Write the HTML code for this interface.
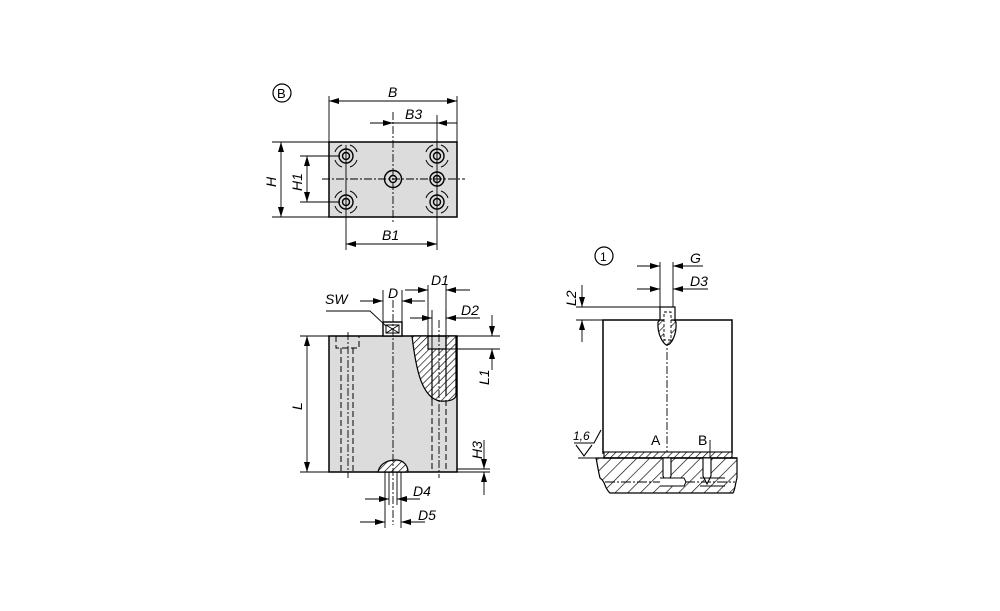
<!DOCTYPE html>
<html><head><meta charset="utf-8"><style>
html,body{margin:0;padding:0;background:#fff;width:1000px;height:611px;overflow:hidden}
svg{display:block}
text{font-family:"Liberation Sans",sans-serif;font-style:italic;font-size:14px;fill:#000}
</style></head><body>
<svg width="1000" height="611" viewBox="0 0 1000 611" xmlns="http://www.w3.org/2000/svg">
<defs>
<pattern id="h" patternUnits="userSpaceOnUse" width="5" height="5" patternTransform="rotate(45)"><rect width="5" height="5" fill="#fff"/><line x1="0" y1="0" x2="0" y2="5" stroke="#000" stroke-width="1.3"/></pattern>
<pattern id="h2" patternUnits="userSpaceOnUse" width="9" height="9" patternTransform="rotate(45)"><rect width="9" height="9" fill="#fff"/><line x1="0" y1="0" x2="0" y2="9" stroke="#000" stroke-width="1.3"/></pattern>
<marker id="a" viewBox="0 0 10 6" refX="10" refY="3" markerWidth="10" markerHeight="6" orient="auto-start-reverse" markerUnits="userSpaceOnUse"><path d="M0,0L10,3L0,6z" fill="#000"/></marker>
</defs>
<g stroke="#000" fill="none" stroke-width="1">

<!-- TOP VIEW -->
<circle cx="282" cy="93" r="9" stroke-width="1.2"/>
<rect x="329" y="142" width="128" height="75" fill="#dcdcdc" stroke-width="1.5"/>
<line x1="322" y1="179" x2="465" y2="179" stroke-dasharray="8,2,2,2" stroke-width="0.9"/>
<line x1="393" y1="112" x2="393" y2="224" stroke-dasharray="8,2,2,2" stroke-width="0.9"/>
<g stroke-width="1.4">
<circle cx="346" cy="156" r="7"/><circle cx="346" cy="156" r="3.5"/>
<circle cx="346" cy="202" r="7"/><circle cx="346" cy="202" r="3.5"/>
<circle cx="437" cy="156" r="7"/><circle cx="437" cy="156" r="3.5"/>
<circle cx="437" cy="202" r="7"/><circle cx="437" cy="202" r="3.5"/>
<circle cx="437" cy="179" r="7"/><circle cx="437" cy="179" r="3.5"/>
<circle cx="393" cy="179" r="8.5"/><circle cx="393" cy="179" r="3.5"/>
</g>
<g stroke-width="1">
<path d="M335,152 A11,11 0 0 1 342,145 M350,145 A11,11 0 0 1 357,152 M357,160 A11,11 0 0 1 350,167 M342,167 A11,11 0 0 1 335,160"/>
<path d="M335,198 A11,11 0 0 1 342,191 M350,191 A11,11 0 0 1 357,198 M357,206 A11,11 0 0 1 350,213 M342,213 A11,11 0 0 1 335,206"/>
<path d="M426,152 A11,11 0 0 1 433,145 M441,145 A11,11 0 0 1 448,152 M448,160 A11,11 0 0 1 441,167 M433,167 A11,11 0 0 1 426,160"/>
<path d="M426,198 A11,11 0 0 1 433,191 M441,191 A11,11 0 0 1 448,198 M448,206 A11,11 0 0 1 441,213 M433,213 A11,11 0 0 1 426,206"/>
</g>
<g stroke-width="0.9">
<line x1="346" y1="145" x2="346" y2="250"/><line x1="437" y1="115" x2="437" y2="250"/>
<line x1="329" y1="96" x2="329" y2="142"/><line x1="457" y1="96" x2="457" y2="142"/>
<line x1="272" y1="142" x2="329" y2="142"/><line x1="272" y1="217" x2="329" y2="217"/>
<line x1="300" y1="156" x2="340" y2="156"/><line x1="300" y1="202" x2="340" y2="202"/>
<line x1="329" y1="101" x2="457" y2="101" marker-start="url(#a)" marker-end="url(#a)"/>
<line x1="370" y1="123" x2="393" y2="123" marker-end="url(#a)"/>
<line x1="393" y1="123" x2="437" y2="123"/>
<line x1="457" y1="123" x2="437" y2="123" marker-end="url(#a)"/>
<line x1="346" y1="244" x2="437" y2="244" marker-start="url(#a)" marker-end="url(#a)"/>
<line x1="281" y1="142" x2="281" y2="217" marker-start="url(#a)" marker-end="url(#a)"/>
<line x1="307" y1="156" x2="307" y2="202" marker-start="url(#a)" marker-end="url(#a)"/>
</g>

<!-- FRONT VIEW -->
<rect x="329" y="336" width="128" height="136" fill="#dcdcdc" stroke-width="1.5"/>
<path d="M412,336 C416,370 422,398 440,401 C452,402 456,398 456,395 L456,336 L446,336 L446,349 L428,349 L428,336 Z" fill="url(#h)" stroke-width="1.2"/>
<path d="M428,336 L446,336 L446,349 L446,396 M432,349 L432,400" stroke-width="1.2"/>
<path d="M378,472 C380,462 390,460 396,460 C404,460 408,466 408,472 Z" fill="url(#h)" stroke-width="1.2"/>
<rect x="383" y="322" width="19" height="14" fill="#fff" stroke-width="1.4"/>
<rect x="386" y="325" width="13" height="8" stroke-width="1"/>
<path d="M386,325 L399,333 M399,325 L386,333" stroke-width="0.9"/>
<g stroke-width="1" stroke-dasharray="6,3">
<path d="M336,336 L336,348 L359,348 L359,336"/>
<line x1="341" y1="348" x2="341" y2="472"/><line x1="353" y1="348" x2="353" y2="472"/>
<line x1="432" y1="400" x2="432" y2="472"/><line x1="446" y1="400" x2="446" y2="472"/>
</g>
<g stroke-width="0.9" stroke-dasharray="8,2,2,2">
<line x1="393" y1="300" x2="393" y2="525"/>
<line x1="348" y1="332" x2="348" y2="478"/>
<line x1="439" y1="320" x2="439" y2="478"/>
</g>
<g stroke-width="0.9">
<line x1="300" y1="336" x2="329" y2="336"/><line x1="300" y1="472" x2="329" y2="472"/>
<line x1="307" y1="336" x2="307" y2="472" marker-start="url(#a)" marker-end="url(#a)"/>
<line x1="457" y1="336" x2="500" y2="336"/><line x1="446" y1="349" x2="500" y2="349"/>
<line x1="492" y1="315" x2="492" y2="336" marker-end="url(#a)"/><line x1="492" y1="370" x2="492" y2="349" marker-end="url(#a)"/>
<line x1="457" y1="469" x2="490" y2="469"/><line x1="457" y1="472" x2="490" y2="472"/>
<line x1="484" y1="440" x2="484" y2="469" marker-end="url(#a)"/><line x1="484" y1="495" x2="484" y2="472" marker-end="url(#a)"/>
<line x1="383" y1="290" x2="383" y2="322"/><line x1="402" y1="290" x2="402" y2="322"/>
<line x1="360" y1="301" x2="383" y2="301" marker-end="url(#a)"/><line x1="425" y1="301" x2="402" y2="301" marker-end="url(#a)"/>
<line x1="428" y1="285" x2="428" y2="336"/><line x1="446" y1="285" x2="446" y2="336"/>
<line x1="405" y1="290" x2="428" y2="290" marker-end="url(#a)"/><line x1="470" y1="290" x2="446" y2="290" marker-end="url(#a)"/>
<line x1="432" y1="310" x2="432" y2="349"/><line x1="446" y1="310" x2="446" y2="320"/>
<line x1="410" y1="318" x2="432" y2="318" marker-end="url(#a)"/><line x1="480" y1="318" x2="446" y2="318" marker-end="url(#a)"/>
<line x1="385" y1="472" x2="385" y2="528"/><line x1="401" y1="472" x2="401" y2="528"/>
<line x1="389" y1="472" x2="389" y2="505"/><line x1="397" y1="472" x2="397" y2="505"/>
<line x1="365" y1="499" x2="389" y2="499" marker-end="url(#a)"/><line x1="420" y1="499" x2="397" y2="499" marker-end="url(#a)"/>
<line x1="360" y1="522" x2="385" y2="522" marker-end="url(#a)"/><line x1="425" y1="522" x2="401" y2="522" marker-end="url(#a)"/>
<path d="M326,311 L370,311 L386,326"/>
</g>

<!-- RIGHT VIEW -->
<circle cx="604" cy="256" r="9" stroke-width="1.2"/>
<rect x="603" y="320" width="129" height="133" fill="#fff" stroke-width="1.5"/>
<line x1="667" y1="310" x2="667" y2="485" stroke-dasharray="8,2,2,2" stroke-width="0.9"/>
<path d="M658,322 C657,335 664,345 667,345 C671,345 677,335 676,322 L674,320 L660,320 Z" fill="url(#h)" stroke-width="1.2"/>
<rect x="660" y="307" width="15" height="13" fill="#fff" stroke-width="1.2"/>
<rect x="664" y="312" width="7" height="28" fill="#fff" stroke-width="0.9" stroke-dasharray="3,2"/>
<rect x="604" y="452" width="128" height="6" fill="url(#h)" stroke-width="1.1"/>
<path d="M596,458 L737,458 L737,478 C735,485 735,490 733,493 L610,493 C604,488 606,482 600,478 C598,470 597,462 596,458 Z" fill="url(#h2)" stroke-width="1.2"/>
<line x1="603" y1="458" x2="737" y2="458" stroke-width="1.4"/>
<line x1="605" y1="482" x2="735" y2="482" stroke-width="0.9" stroke-dasharray="10,2,2,2"/>
<path d="M663,458 L663,476 L667,484 L671,476 L671,458 Z" fill="#fff" stroke-width="1.1"/>
<path d="M703,458 L703,476 L707,484 L711,476 L711,458 Z" fill="#fff" stroke-width="1.1"/>
<path d="M660,478 L684,478 L686,482 L684,486 L660,486" fill="#fff" stroke-width="1"/>
<path d="M700,478 L725,478 M700,486 L725,486" stroke-width="1"/>
<line x1="710" y1="440" x2="710" y2="458" stroke-width="0.9"/>
<g stroke-width="0.9">
<line x1="660" y1="262" x2="660" y2="307"/><line x1="673" y1="262" x2="673" y2="307"/>
<line x1="637" y1="266" x2="660" y2="266" marker-end="url(#a)"/><line x1="703" y1="266" x2="673" y2="266" marker-end="url(#a)"/>
<line x1="637" y1="289" x2="660" y2="289" marker-end="url(#a)"/><line x1="708" y1="289" x2="673" y2="289" marker-end="url(#a)"/>
<line x1="576" y1="307" x2="660" y2="307"/><line x1="576" y1="320" x2="603" y2="320"/>
<line x1="582" y1="285" x2="582" y2="307" marker-end="url(#a)"/><line x1="582" y1="342" x2="582" y2="320" marker-end="url(#a)"/>
<path d="M574,443 L594,443 L601,430 M576,445 L584,456 L592,445" stroke-width="1.1"/>
<line x1="578" y1="458" x2="603" y2="458"/>
</g>
</g>
<g>
<text x="277" y="98" style="font-style:normal;font-size:13px">B</text>
<text x="388" y="97">B</text>
<text x="405" y="119">B3</text>
<text x="382" y="240">B1</text>
<text transform="translate(276,187) rotate(-90)">H</text>
<text transform="translate(302,191) rotate(-90)">H1</text>
<text transform="translate(302,410) rotate(-90)">L</text>
<text x="325" y="304">SW</text>
<text x="388" y="298">D</text>
<text x="431" y="285">D1</text>
<text x="461" y="315">D2</text>
<text transform="translate(489,385) rotate(-90)">L1</text>
<text transform="translate(482,459) rotate(-90)">H3</text>
<text x="413" y="496">D4</text>
<text x="418" y="520">D5</text>
<text x="600" y="261" style="font-style:normal;font-size:12px">1</text>
<text x="690" y="263">G</text>
<text x="690" y="286">D3</text>
<text transform="translate(576,306) rotate(-90)">L2</text>
<text x="573" y="440" style="font-size:12px">1,6</text>
<text x="651" y="445" style="font-style:normal">A</text>
<text x="698" y="445" style="font-style:normal">B</text>
</g>
</svg>
</body></html>
